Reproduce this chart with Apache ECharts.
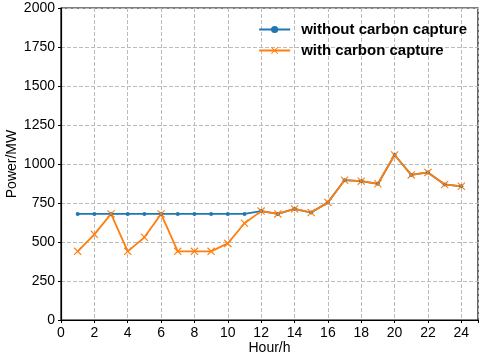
<!DOCTYPE html>
<html><head><meta charset="utf-8">
<script src="https://cdn.jsdelivr.net/npm/echarts@6/dist/echarts.min.js"></script>
<style>html,body{margin:0;padding:0;background:#fff}#c{width:484px;height:359px}</style>
</head><body><div id="c"></div>
<script>
const hours = [1,2,3,4,5,6,7,8,9,10,11,12,13,14,15,16,17,18,19,20,21,22,23,24];
const withoutCapture = [680,680,680,680,680,680,680,680,680,680,680,698,680,712,689,754,896,890,873,1058,930,946,869,857];
const withCapture = [440,549,680,440,530,680,440,440,440,491,620,698,680,712,689,754,896,890,873,1058,930,946,869,857];
const xSym = 'path://M0,1L1,0L5,4L9,0L10,1L6,5L10,9L9,10L5,6L1,10L0,9L4,5Z';
const chart = echarts.init(document.getElementById('c'));
const font = 'Liberation Sans, Arial, sans-serif';
chart.setOption({
  animation:false,
  grid:{left:61,right:6,top:8,bottom:39,outerBoundsMode:'none',containLabel:false,show:true,borderColor:'#000',borderWidth:1.2,backgroundColor:'transparent'},
  legend:{
    top:17,right:12,orient:'vertical',itemWidth:31,itemHeight:9,itemGap:6,
    textStyle:{fontFamily:font,fontSize:15,fontWeight:'bold',color:'#000',padding:[0,0,0,6]},
    data:['without carbon capture','with carbon capture']
  },
  xAxis:{
    type:'value',min:0,max:25,interval:2,
    name:'Hour/h',nameLocation:'middle',nameGap:21,nameMoveOverlap:false,
    nameTextStyle:{fontFamily:font,fontSize:14,color:'#000'},
    axisLine:{show:true,lineStyle:{color:'#000',width:1.2}},
    axisTick:{show:true,inside:false,length:3,lineStyle:{color:'#000'}},
    axisLabel:{fontFamily:font,fontSize:14,color:'#000',margin:6,
      formatter:v=>v%2===0&&v<=24?String(v):''},
    splitLine:{show:true,lineStyle:{color:'#bbb',type:'dashed',width:1}}
  },
  yAxis:{
    type:'value',min:0,max:2000,interval:250,
    name:'Power/MW',nameLocation:'middle',nameGap:42,nameMoveOverlap:false,
    nameTextStyle:{fontFamily:font,fontSize:14,color:'#000'},
    axisLine:{show:true,lineStyle:{color:'#000',width:1.2}},
    axisTick:{show:true,length:3,lineStyle:{color:'#000'}},
    axisLabel:{fontFamily:font,fontSize:14,color:'#000',margin:6,formatter:v=>String(v)},
    splitLine:{show:true,lineStyle:{color:'#bbb',type:'dashed',width:1}}
  },
  series:[
    {name:'without carbon capture',type:'line',data:hours.map((h,i)=>[h,withoutCapture[i]]),
     symbol:'circle',symbolSize:4,showAllSymbol:true,
     lineStyle:{color:'#1f77b4',width:1.8},itemStyle:{color:'#1f77b4'}},
    {name:'with carbon capture',type:'line',data:hours.map((h,i)=>[h,withCapture[i]]),
     symbol:xSym,symbolSize:8,showAllSymbol:true,
     lineStyle:{color:'#ff7f0e',width:1.8},itemStyle:{color:'#ff7f0e'}}
  ]
});
</script></body></html>
